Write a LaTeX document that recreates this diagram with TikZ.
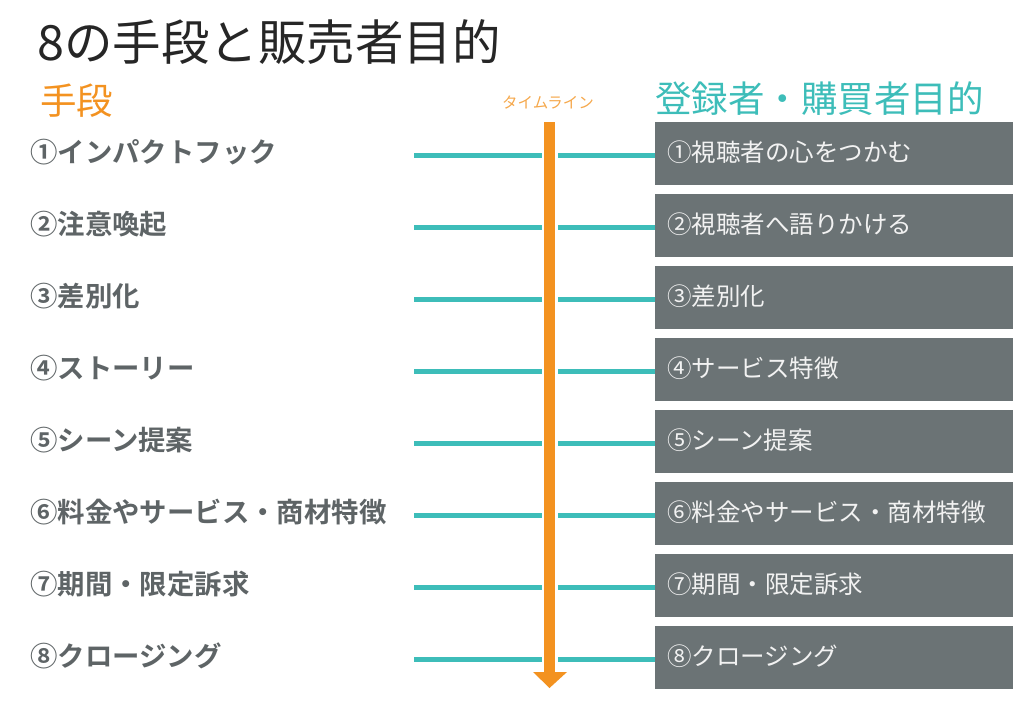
\documentclass[tikz,border=0pt]{standalone}
\usepackage{fontspec}
\newfontfamily\cjk{Noto Sans CJK JP}[BoldFont={Noto Sans CJK JP Bold}]
\definecolor{tealc}{HTML}{3DBDB9}
\definecolor{orangec}{HTML}{F39220}
\definecolor{boxgray}{HTML}{6B7375}
\definecolor{labgray}{HTML}{5E6466}
\definecolor{boxtext}{HTML}{F2F2F2}
\begin{document}
\begin{tikzpicture}[x=1pt,y=-1pt,
  means/.style={anchor=west,inner sep=0pt,font=\cjk\bfseries\fontsize{27.4}{30}\selectfont,text=labgray},
  goal/.style={fill=boxgray,minimum width=358pt,minimum height=63pt,inner sep=0pt,outer sep=0pt},
  goaltext/.style={anchor=west,inner sep=0pt,text=boxtext,font=\cjk\fontsize{24.5}{28}\selectfont},
  link/.style={draw=tealc,line width=5pt}]
\useasboundingbox (0,0) rectangle (1024,705);
\node[anchor=west,inner sep=0pt,font=\cjk\fontsize{48.5}{52}\selectfont,text={black!85}] (title) at (37,42) {8の手段と販売者目的};
\node[anchor=west,inner sep=0pt,font=\cjk\fontsize{36.5}{40}\selectfont,text=orangec] (h1) at (40,101) {手段};
\node[anchor=west,inner sep=0pt,font=\cjk\fontsize{36.5}{40}\selectfont,text=tealc] (h2) at (655,99) {登録者・購買者目的};
\node[inner sep=0pt,font=\cjk\fontsize{15.5}{18}\selectfont,text=orangec!80] (tl) at (548,103) {タイムライン};
% timeline
\coordinate (tltop) at (549.5,122);
\coordinate (tlend) at (549.5,688);
\draw[draw=orangec,line width=11pt] (tltop) -- (549.5,673);
\fill[orangec] (533,672) -- (567,672) -- (tlend) -- cycle;
\foreach \i/\l/\r [count=\n] in {155/①インパクトフック/①視聴者の心をつかむ,
  227/②注意喚起/②視聴者へ語りかける,
  299/③差別化/③差別化,
  371/④ストーリー/④サービス特徴,
  443/⑤シーン提案/⑤シーン提案,
  515/⑥料金やサービス・商材特徴/⑥料金やサービス・商材特徴,
  587/⑦期間・限定訴求/⑦期間・限定訴求,
  659/⑧クロージング/⑧クロージング}{
  \node[means] (m\n) at (30,\i-3) {\l};
  \node[goal] (g\n) at (834,\i-1.5) {};
  \node[goaltext] (t\n) at (667,\i-2.5) {\r};
  \coordinate (a\n) at (414,\i);
  \coordinate (b\n) at (542,\i);
  \coordinate (c\n) at (558,\i);
  \draw[link] (a\n) -- (b\n);
  \draw[link] (c\n) -- (g\n.west |- c\n);
}
\end{tikzpicture}
\end{document}
